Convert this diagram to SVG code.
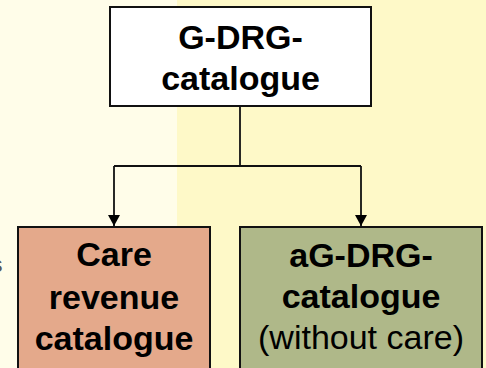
<svg xmlns="http://www.w3.org/2000/svg" width="486" height="368" viewBox="0 0 486 368">
<defs>
<style>
.box{stroke:#111;stroke-width:2}
.b{font-family:"Liberation Sans",Arial,sans-serif;font-weight:bold;font-size:34px;text-anchor:middle;fill:#000}
.r{font-family:"Liberation Sans",Arial,sans-serif;font-size:34px;text-anchor:middle;fill:#000}
.conn{fill:none;stroke:#111;stroke-width:1.8}
</style>
<marker id="arr" viewBox="0 0 11 12" refX="11" refY="6" markerWidth="11" markerHeight="12" markerUnits="userSpaceOnUse" orient="auto">
<path d="M0,0 L11,6 L0,12 Z" fill="#000"/>
</marker>
</defs>
<rect x="0" y="0" width="486" height="368" fill="#FEF9C8"/>
<rect x="0" y="0" width="177" height="368" fill="#FFFDE9"/>
<text x="2.5" y="272" font-family="Liberation Sans,Arial,sans-serif" font-size="22" fill="#555" text-anchor="end">s</text>
<g id="connectors">
<path class="conn" d="M240,106 V166"/>
<path class="conn" d="M114,166 H361"/>
<path class="conn" d="M114,166 V226" marker-end="url(#arr)"/>
<path class="conn" d="M361,166 V226" marker-end="url(#arr)"/>
</g>
<g id="g-drg">
<rect class="box" x="110" y="7" width="261" height="99" fill="#FFFFFF"/>
<text class="b" x="240.5" y="48.5">G-DRG-</text>
<text class="b" x="240.5" y="89.5">catalogue</text>
</g>
<g id="care">
<rect class="box" x="18" y="227" width="192" height="150" fill="#E4A98B"/>
<text class="b" x="114" y="266">Care</text>
<text class="b" x="114" y="309">revenue</text>
<text class="b" x="114" y="350">catalogue</text>
</g>
<g id="ag-drg">
<rect class="box" x="240" y="227" width="242" height="150" fill="#AFB889"/>
<text class="b" x="361" y="267">aG-DRG-</text>
<text class="b" x="361" y="308">catalogue</text>
<text class="r" x="361" y="349">(without care)</text>
</g>
</svg>
